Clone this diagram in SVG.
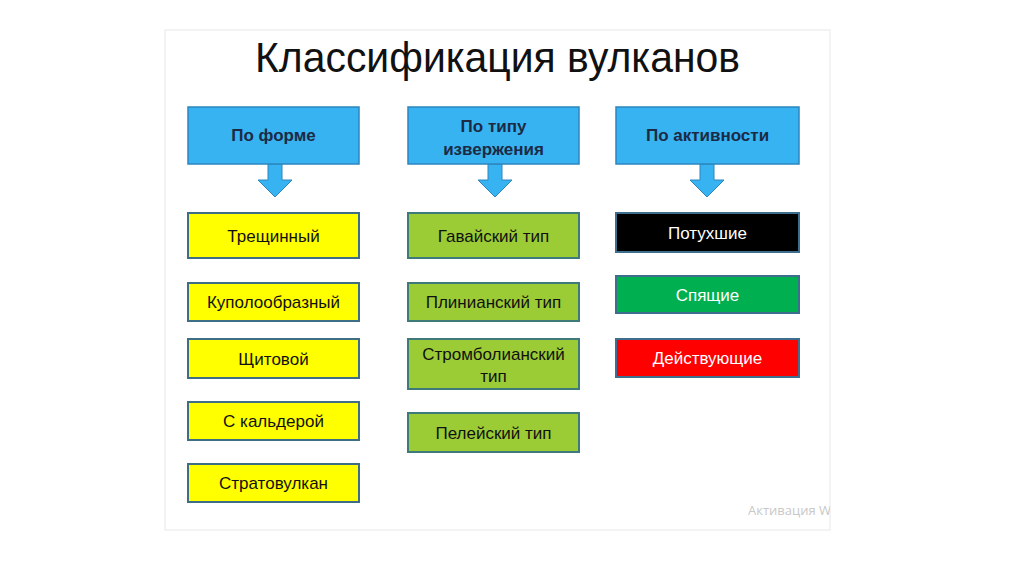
<svg xmlns="http://www.w3.org/2000/svg" width="1024" height="574" viewBox="0 0 1024 574">
<style>
.hdr{fill:#37B3F2;stroke:#2C86BE;stroke-width:1.5}
.y{fill:#FFFF00;stroke:#3E6E86;stroke-width:2}
.g{fill:#9BCB35;stroke:#3E7A7A;stroke-width:2}
.a{stroke:#3E6E8E;stroke-width:2}
.arr{fill:#37B3F2;stroke:#2C86BE;stroke-width:1}
text{font-family:"Liberation Sans",Arial,sans-serif;text-anchor:middle}
.ht{font-size:17px;font-weight:bold;fill:#1C2A44}
.bt{font-size:17px;fill:#111}
</style>
<defs>
<clipPath id="slide"><rect x="165" y="30" width="665" height="500"/></clipPath>
</defs>
<rect width="1024" height="574" fill="#ffffff"/>
<rect x="165" y="30" width="665" height="500" fill="#ffffff" stroke="#f0f0f0" stroke-width="1.5"/>
<text x="497.5" y="72" textLength="485" lengthAdjust="spacingAndGlyphs" style="font-size:43px;fill:#111">Классификация вулканов</text>

<g id="connectors">
<path class="arr" d="M268,164 V180 H258 L275,197 L292,180 H282 V164 Z"/>
<path class="arr" d="M488,164 V180 H478 L495,197 L512,180 H502 V164 Z"/>
<path class="arr" d="M700,164 V180 H690 L707,197 L724,180 H714 V164 Z"/>
</g>

<g id="h-forma"><rect class="hdr" x="188" y="107" width="171" height="57"/><text class="ht" x="273.5" y="141">По форме</text></g>
<g id="h-tip"><rect class="hdr" x="408" y="107" width="171" height="57"/><text class="ht" x="493.5" y="132">По типу</text><text class="ht" x="493.5" y="155">извержения</text></g>
<g id="h-akt"><rect class="hdr" x="616" y="107" width="183" height="57"/><text class="ht" x="707.5" y="141">По активности</text></g>

<g id="f1"><rect class="y" x="188" y="213" width="171" height="45"/><text class="bt" x="273.5" y="241.5">Трещинный</text></g>
<g id="f2"><rect class="y" x="188" y="283" width="171" height="38"/><text class="bt" x="273.5" y="308">Куполообразный</text></g>
<g id="f3"><rect class="y" x="188" y="339" width="171" height="39"/><text class="bt" x="273.5" y="364.5">Щитовой</text></g>
<g id="f4"><rect class="y" x="188" y="402" width="171" height="38"/><text class="bt" x="273.5" y="427">С кальдерой</text></g>
<g id="f5"><rect class="y" x="188" y="464" width="171" height="38"/><text class="bt" x="273.5" y="489">Стратовулкан</text></g>

<g id="t1"><rect class="g" x="408" y="213" width="171" height="45"/><text class="bt" x="493.5" y="241.5">Гавайский тип</text></g>
<g id="t2"><rect class="g" x="408" y="283" width="171" height="38"/><text class="bt" x="493.5" y="308">Плинианский тип</text></g>
<g id="t3"><rect class="g" x="408" y="339" width="171" height="50"/><text class="bt" x="493.5" y="360">Стромболианский</text><text class="bt" x="493.5" y="382">тип</text></g>
<g id="t4"><rect class="g" x="408" y="413" width="171" height="39"/><text class="bt" x="493.5" y="438.5">Пелейский тип</text></g>

<g id="a1"><rect class="a" x="616" y="213" width="183" height="39" fill="#000000"/><text class="bt" x="707.5" y="238.5" style="fill:#ffffff">Потухшие</text></g>
<g id="a2"><rect class="a" x="616" y="276" width="183" height="37" fill="#00B050"/><text class="bt" x="707.5" y="300.5" style="fill:#ffffff">Спящие</text></g>
<g id="a3"><rect class="a" x="616" y="339" width="183" height="38" fill="#FF0000"/><text class="bt" x="707.5" y="364" style="fill:#ffffff">Действующие</text></g>

<text x="748" y="515" clip-path="url(#slide)" style="font-size:13px;fill:#c8c8c8;text-anchor:start;font-family:'Open Sans','Liberation Sans',sans-serif">Активация Windows</text>
</svg>
